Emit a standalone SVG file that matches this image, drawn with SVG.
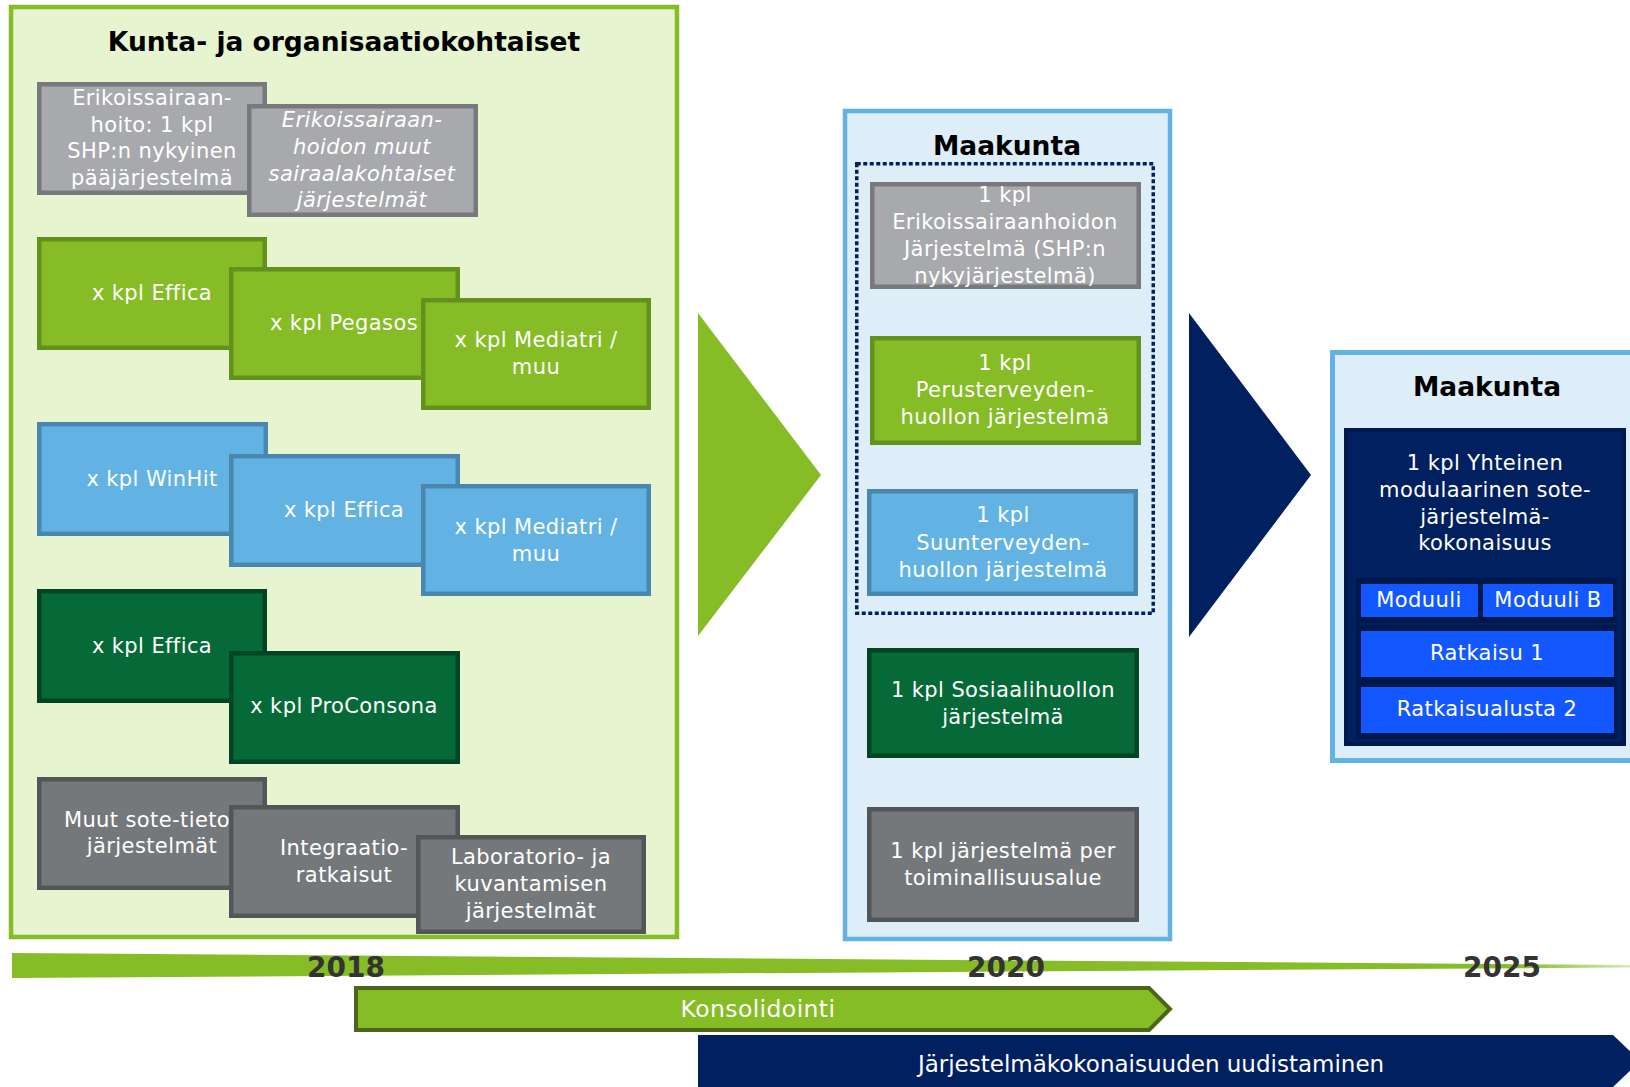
<svg xmlns="http://www.w3.org/2000/svg" width="1630" height="1087" viewBox="0 0 1630 1087">
<defs>
<style>
text{font-family:"DejaVu Sans",Verdana,sans-serif;}
.t{font-size:21px;letter-spacing:0.4px;fill:#ffffff;text-anchor:middle;}
.ti{font-size:21px;letter-spacing:0.4px;fill:#ffffff;text-anchor:middle;font-style:italic;}
.h{font-size:26.5px;font-weight:bold;fill:#000000;text-anchor:middle;}
.yr{font-size:28px;font-weight:bold;fill:#333333;text-anchor:middle;}
.gl{fill:#a7a9ac;stroke:#77797c;stroke-width:4.5;}
.gr{fill:#86bc25;stroke:#64901d;stroke-width:4.5;}
.bl{fill:#62b3e4;stroke:#4a87ae;stroke-width:4.5;}
.dg{fill:#056a38;stroke:#034522;stroke-width:4.5;}
.gy{fill:#75787b;stroke:#535659;stroke-width:4.5;}
.bb{fill:#1257ff;}
</style>
<linearGradient id="tl" gradientUnits="userSpaceOnUse" x1="12" y1="0" x2="1630" y2="0">
<stop offset="0" stop-color="#86bc25"/>
<stop offset="0.93" stop-color="#86bc25"/>
<stop offset="1" stop-color="#d6eab5"/>
</linearGradient>
</defs>
<rect x="0" y="0" width="1630" height="1087" fill="#ffffff"/>

<g id="panel-kunta">
<rect x="11" y="7" width="666" height="930" fill="#e6f4d0" stroke="#86bc25" stroke-width="4.5"/>
<text class="h" x="344" y="51">Kunta- ja organisaatiokohtaiset</text>
</g>

<g id="node-erikois1">
<rect class="gl" x="39.25" y="84.25" width="225.5" height="108.5"/>
<text class="t" x="152" y="105">Erikoissairaan-</text>
<text class="t" x="152" y="131.7">hoito: 1 kpl</text>
<text class="t" x="152" y="158.4">SHP:n nykyinen</text>
<text class="t" x="152" y="185">pääjärjestelmä</text>
</g>
<g id="node-erikois2">
<rect class="gl" x="249.25" y="106.25" width="226.5" height="108.5"/>
<text class="ti" x="362" y="127">Erikoissairaan-</text>
<text class="ti" x="362" y="154">hoidon muut</text>
<text class="ti" x="362" y="180.5">sairaalakohtaiset</text>
<text class="ti" x="362" y="207">järjestelmät</text>
</g>

<g id="node-effica-green">
<rect class="gr" x="39.25" y="239.25" width="225.5" height="108.5"/>
<text class="t" x="152" y="300">x kpl Effica</text>
</g>
<g id="node-pegasos">
<rect class="gr" x="231.25" y="269.25" width="226.5" height="108.5"/>
<text class="t" x="344" y="330">x kpl Pegasos</text>
</g>
<g id="node-mediatri-green">
<rect class="gr" x="423.25" y="300.25" width="225.5" height="107.5"/>
<text class="t" x="536" y="347">x kpl Mediatri /</text>
<text class="t" x="536" y="374">muu</text>
</g>

<g id="node-winhit">
<rect class="bl" x="39.25" y="424.25" width="226.5" height="109.5"/>
<text class="t" x="152" y="486">x kpl WinHit</text>
</g>
<g id="node-effica-blue">
<rect class="bl" x="231.25" y="456.25" width="226.5" height="108.5"/>
<text class="t" x="344" y="517">x kpl Effica</text>
</g>
<g id="node-mediatri-blue">
<rect class="bl" x="423.25" y="486.25" width="225.5" height="107.5"/>
<text class="t" x="536" y="534">x kpl Mediatri /</text>
<text class="t" x="536" y="561">muu</text>
</g>

<g id="node-effica-dark">
<rect class="dg" x="39.25" y="591.25" width="225.5" height="109.5"/>
<text class="t" x="152" y="653">x kpl Effica</text>
</g>
<g id="node-proconsona">
<rect class="dg" x="231.25" y="653.25" width="226.5" height="108.5"/>
<text class="t" x="344" y="713">x kpl ProConsona</text>
</g>

<g id="node-muut">
<rect class="gy" x="39.25" y="779.25" width="225.5" height="108.5"/>
<text class="t" x="147" y="827">Muut sote-tieto</text>
<text class="t" x="152" y="853">järjestelmät</text>
</g>
<g id="node-integraatio">
<rect class="gy" x="231.25" y="807.25" width="226.5" height="108.5"/>
<text class="t" x="344" y="855">Integraatio-</text>
<text class="t" x="344" y="882">ratkaisut</text>
</g>
<g id="node-laboratorio">
<rect class="gy" x="418.25" y="837.25" width="225.5" height="94.5"/>
<text class="t" x="531" y="864">Laboratorio- ja</text>
<text class="t" x="531" y="891">kuvantamisen</text>
<text class="t" x="531" y="918">järjestelmät</text>
</g>

<g id="connectors">
<polygon points="698,313 821,475 698,636" fill="#86bc25"/>
<polygon points="1189,313 1311,475 1189,637" fill="#002060"/>
</g>

<g id="panel-maakunta-2020">
<rect x="845" y="111" width="325" height="828" fill="#deeef9" stroke="#62b3e4" stroke-width="4.5"/>
<text class="h" x="1007" y="155">Maakunta</text>
<rect x="856.75" y="163.75" width="296.5" height="449.5" fill="none" stroke="#002060" stroke-width="3.5" stroke-dasharray="4 2.5"/>
</g>
<g id="node-m-erikois">
<rect class="gl" x="872.25" y="184.25" width="266.5" height="102.5"/>
<text class="t" x="1005" y="202">1 kpl</text>
<text class="t" x="1005" y="229">Erikoissairaanhoidon</text>
<text class="t" x="1005" y="256">Järjestelmä (SHP:n</text>
<text class="t" x="1005" y="283">nykyjärjestelmä)</text>
</g>
<g id="node-m-perus">
<rect class="gr" x="872.25" y="338.25" width="266.5" height="104.5"/>
<text class="t" x="1005" y="370">1 kpl</text>
<text class="t" x="1005" y="397">Perusterveyden-</text>
<text class="t" x="1005" y="424">huollon järjestelmä</text>
</g>
<g id="node-m-suun">
<rect class="bl" x="869.25" y="491.25" width="266.5" height="102.5"/>
<text class="t" x="1003" y="522">1 kpl</text>
<text class="t" x="1003" y="550">Suunterveyden-</text>
<text class="t" x="1003" y="577">huollon järjestelmä</text>
</g>
<g id="node-m-sosiaali">
<rect class="dg" x="869.25" y="650.25" width="267.5" height="105.5"/>
<text class="t" x="1003" y="697">1 kpl Sosiaalihuollon</text>
<text class="t" x="1003" y="724">järjestelmä</text>
</g>
<g id="node-m-per">
<rect class="gy" x="869.25" y="809.25" width="267.5" height="110.5"/>
<text class="t" x="1003" y="858">1 kpl järjestelmä per</text>
<text class="t" x="1003" y="885">toiminallisuusalue</text>
</g>

<g id="panel-maakunta-2025">
<rect x="1332.5" y="352.5" width="310" height="408" fill="#deeef9" stroke="#62b3e4" stroke-width="5"/>
<text class="h" x="1487" y="396">Maakunta</text>
</g>
<g id="node-yhteinen">
<rect x="1346" y="430" width="278" height="314" fill="#002060" stroke="#001a4f" stroke-width="4"/>
<text class="t" x="1485" y="470">1 kpl Yhteinen</text>
<text class="t" x="1485" y="497">modulaarinen sote-</text>
<text class="t" x="1485" y="524">järjestelmä-</text>
<text class="t" x="1485" y="550">kokonaisuus</text>
<rect x="1356" y="578" width="261" height="45" fill="#00184a"/>
<rect x="1356" y="625" width="261" height="114" fill="#00184a"/>
</g>
<g id="node-moduuli">
<rect class="bb" x="1361" y="584" width="117" height="33"/>
<text class="t" x="1419" y="607">Moduuli</text>
</g>
<g id="node-moduuli-b">
<rect class="bb" x="1483" y="584" width="130" height="33"/>
<text class="t" x="1548" y="607">Moduuli B</text>
</g>
<g id="node-ratkaisu1">
<rect class="bb" x="1361" y="631" width="253" height="46"/>
<text class="t" x="1487" y="660">Ratkaisu 1</text>
</g>
<g id="node-ratkaisualusta2">
<rect class="bb" x="1361" y="687" width="253" height="46"/>
<text class="t" x="1487" y="716">Ratkaisualusta 2</text>
</g>

<g id="timeline">
<polygon points="12,953 1630,965 1630,967.5 12,978" fill="url(#tl)"/>
<text class="yr" x="346" y="977">2018</text>
<text class="yr" x="1006" y="977">2020</text>
<text class="yr" x="1502" y="977">2025</text>
</g>
<g id="node-konsolidointi">
<polygon points="356,988 1149,988 1170,1009 1149,1030 356,1030" fill="#86bc25" stroke="#4b6619" stroke-width="4"/>
<text class="t" x="758" y="1017" style="font-size:23.5px">Konsolidointi</text>
</g>
<g id="node-uudistaminen">
<polygon points="698,1035 1613,1035 1640,1061 1613,1087 698,1087" fill="#002060"/>
<text class="t" x="1151" y="1072" style="font-size:23px;letter-spacing:0px">Järjestelmäkokonaisuuden uudistaminen</text>
</g>
</svg>
